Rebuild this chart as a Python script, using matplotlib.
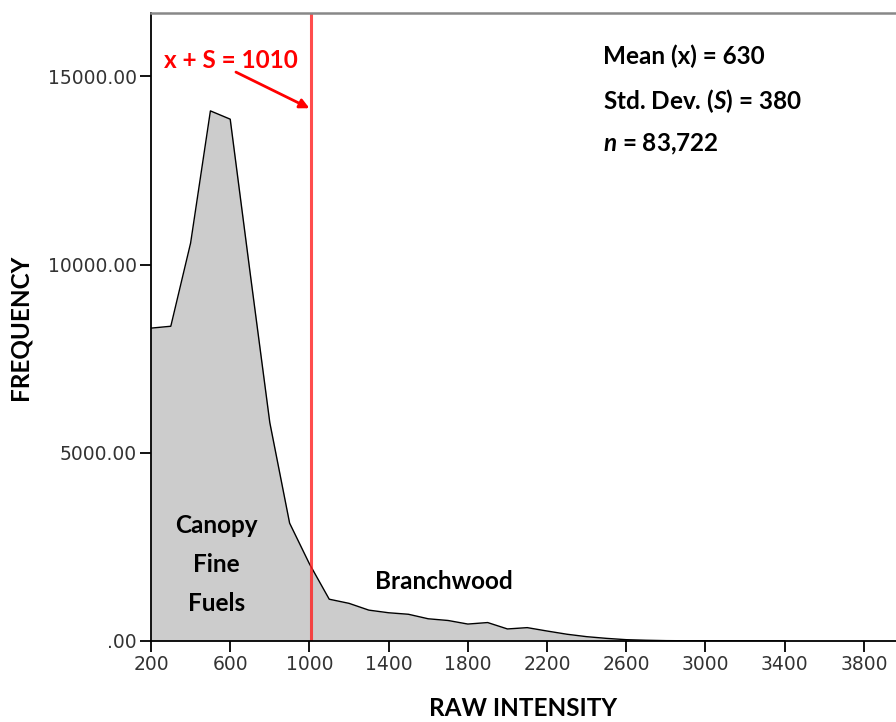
import matplotlib
matplotlib.use("Agg")
import matplotlib.pyplot as plt

# histogram polygon (bin centres, counts)
intensity = [200, 300, 400, 500, 600, 700, 800, 900, 1000, 1100, 1200, 1300, 1400,
             1500, 1600, 1700, 1800, 1900, 2000, 2100, 2200, 2300, 2400, 2500,
             2600, 2700, 2800, 2900, 3000, 3100, 3200, 3300, 3400]
frequency = [8310, 8360, 10570, 14080, 13860, 9800, 5800, 3130, 2050, 1110, 1000,
             820, 750, 710, 590, 545, 450, 490, 320, 355, 265, 180, 115, 70,
             35, 20, 10, 6, 5, 4, 3, 2, 1]

x_ticks = [200, 600, 1000, 1400, 1800, 2200, 2600, 3000, 3400, 3800]
y_ticks = [0, 5000, 10000, 15000]
y_labels = [".00", "5000.00", "10000.00", "15000.00"]

mean_val = 630
std_val = 380
n_obs = "83,722"
threshold = mean_val + std_val

plt.rcParams["mathtext.fontset"] = "custom"
plt.rcParams["mathtext.it"] = "Lato:italic:bold"
plt.rcParams["mathtext.rm"] = "Lato:bold"

BOLD = dict(family="Lato", fontweight="bold")
FS = 17.5

fig = plt.figure(figsize=(8.96, 7.22), dpi=100)
ax = fig.add_axes([151 / 896, 81 / 722, 1 - 151 / 896, (641 - 13) / 722])

ax.fill_between(intensity, frequency, 0, color="#cccccc", linewidth=0)
ax.plot(intensity, frequency, color="black", linewidth=1)
ax.axvline(threshold, color="#ff2020", linewidth=2.2, alpha=0.8)

ax.set_xlim(200, 3962)
ax.set_ylim(0, 16680)
ax.set_xticks(x_ticks)
ax.set_yticks(y_ticks)
ax.set_yticklabels(y_labels)
ax.tick_params(direction="out", length=8, width=1.3, colors="black",
               labelcolor="#333333", labelsize=13.5, pad=2)

for side in ["left", "bottom"]:
    ax.spines[side].set_color("black")
    ax.spines[side].set_linewidth(1.3)
ax.spines["top"].set_color("#888888")
ax.spines["top"].set_linewidth(1.8)
ax.spines["right"].set_visible(False)

ax.set_xlabel("RAW INTENSITY", fontsize=FS, labelpad=17, **BOLD)
ax.set_ylabel("FREQUENCY", fontsize=FS, labelpad=12, **BOLD)

ax.text(604, 15430, f"x + S = {threshold}", color="red", fontsize=FS,
        ha="center", va="center", **BOLD)
ax.annotate("", xy=(threshold - 10, 14150), xytext=(629, 15110),
            arrowprops=dict(arrowstyle="-|>", color="red", lw=2,
                            shrinkA=0, shrinkB=0, mutation_scale=14))

stats = [f"Mean (x) = {mean_val}", f"Std. Dev. ($\\mathit{{S}}$) = {std_val}",
         f"$\\mathit{{n}}$ = {n_obs}"]
for i, s in enumerate(stats):
    ax.text(2480, 15520 - i * 1170, s, fontsize=FS, ha="left", va="center", **BOLD)

ax.text(530, 2030, "Canopy\nFine\nFuels", fontsize=FS, ha="center", va="center",
        linespacing=1.85, **BOLD)
ax.text(1680, 1580, "Branchwood", fontsize=FS, ha="center", va="center", **BOLD)

fig.savefig("out.png", dpi=100, facecolor="white")
